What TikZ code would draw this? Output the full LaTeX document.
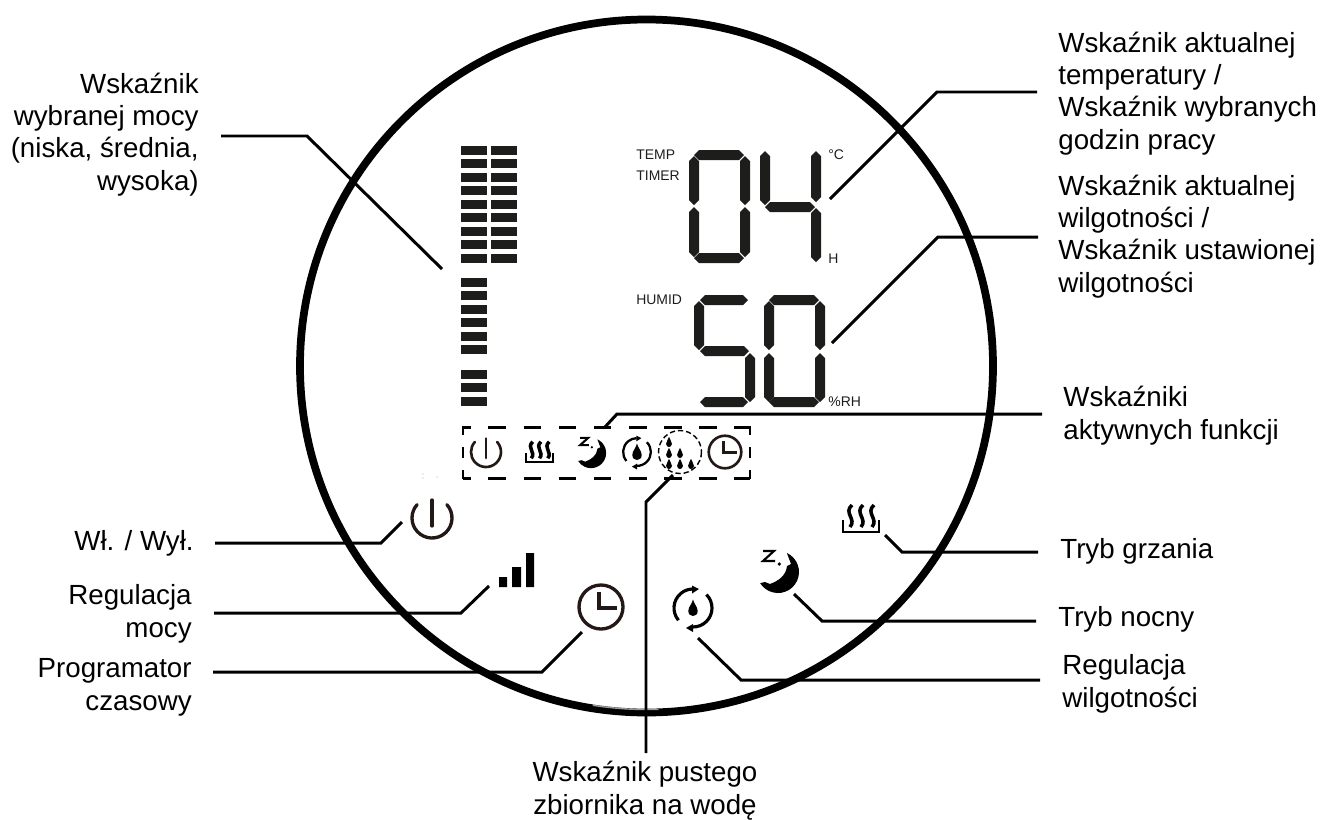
\documentclass[tikz,border=0pt]{standalone}
\usepackage{fontspec}
\setmainfont{Liberation Sans}
\usepackage{tikz}
\definecolor{lcd}{HTML}{1D1D1B}
\definecolor{iconink}{HTML}{231815}
\tikzset{
  x=0.02cm,y=-0.02cm,
  rim/.style={draw=black,line width=4.4pt},
  leader/.style={draw=black,line width=1.7pt},
  lab/.style={inner sep=0pt,font=\fontsize{15.77}{18.4}\selectfont},
  labl/.style={lab,align=left,anchor=base west},
  labr/.style={lab,align=right,anchor=base east},
  lcdtext/.style={inner sep=0pt,anchor=base west,text=lcd,font=\fontsize{7.94}{9}\selectfont},
  dropicon/.pic={
    \fill (0,-8.5) .. controls (1,-4) and (4.7,-1) .. (4.7,3) .. controls (4.7,6.5) and (2,8) .. (0,8)
      .. controls (-2,8) and (-4.7,6.5) .. (-4.7,3) .. controls (-4.7,-1) and (-1,-4) .. (0,-8.5) -- cycle;
  },
  powericon/.pic={
    \draw[iconink,line cap=round] (-42:20) arc[start angle=-42,end angle=222,radius=20];
    \draw[iconink,line cap=round] (0,-18) -- (0,8);
  },
  clockicon/.pic={
    \draw[iconink] (0,0) circle[radius=22];
    \draw[iconink] (-2,-15) -- (-2,1) -- (16,1);
  },
  heaticon/.pic={
    \draw[black] (-18,0) -- (-18,12) -- (18,12) -- (18,0);
    \foreach \wx in {-11,0,11}
      \draw[black,line width=2pt] (\wx+2,-15) .. controls (\wx-7,-7) and (\wx+7,-1) .. (\wx,7);
  },
  moonicon/.pic={
    \fill[black] (-65:21) arc[start angle=-65,end angle=148,radius=21]
      -- (-13,10) -- (-8,12) .. controls (0,9) and (8,4) .. (9,-6) -- (13,-8) -- cycle;
    \draw[black,line width=1.2pt] (-15,-21) -- (-4,-21) -- (-15,-11) -- (-3,-11);
    \fill[black] (1.3,-8) circle[radius=1.8];
  },
  humidicon/.pic={
    \draw[black] (-220:19) arc[start angle=-220,end angle=-92,radius=19];
    \draw[black] (-45:19) arc[start angle=-45,end angle=92,radius=19];
    \fill[black] (6,-19) -- (-1,-22.5) -- (-1,-14.5) -- cycle;
    \fill[black] (-7,20) -- (0,16) -- (0,24) -- cycle;
    \pic at (0,0) {dropicon};
  }
}
\begin{document}
\begin{tikzpicture}
\useasboundingbox (0,0) rectangle (1323,819);
% rim of the panel
\draw[rim] (646.5,366) circle[radius=346.5];
\draw[white,opacity=.6,line width=.8pt] (646.5,366) ++(88:343.5) arc[start angle=88,end angle=99,radius=343.5];

% power bars
\foreach \by in {146,159,173,186,200,213,227,240,254} {
  \fill[lcd] (461,\by) rectangle ++(26,9);
  \fill[lcd] (491,\by) rectangle ++(26,9);
}
\foreach \by in {278,291,305,318,332,345,370,383,397}
  \fill[lcd] (461,\by) rectangle ++(26,9);

% digits
\foreach \xa/\xb/\ym in {694/744/155,694/744/258,765/815/207,700/748/300,700/749/351,700/748/402,769/819/300,769/819/402}
  \fill[lcd] (\xa,\ym) -- (\xa+5,\ym-5) -- (\xb-5,\ym-5) -- (\xb,\ym) -- (\xb-5,\ym+5) -- (\xa+5,\ym+5) -- cycle;
\foreach \xm/\ya/\yb in {694/156/205,694/207/257,745/156/205,745/207/257,765/151/205,816/151/202,816/208/262,
  699/301/350,750/353/402,769/301/350,769/353/402,820/301/350,820/353/402}
  \fill[lcd] (\xm,\ya) -- (\xm+5,\ya+5) -- (\xm+5,\yb-5) -- (\xm,\yb) -- (\xm-5,\yb-5) -- (\xm-5,\ya+5) -- cycle;

\node[lcdtext] (temp) at (636,159) {TEMP};
\node[lcdtext] (timer) at (636,180) {TIMER};
\node[lcdtext] (humid) at (636,304) {HUMID};
\node[lcdtext] (degc) at (828,159) {°C};
\node[lcdtext] (hour) at (828,263) {H};
\node[lcdtext] (perc) at (828,406) {\%RH};

% function indicators
\draw[black,line width=1.7pt,dash pattern=on 10pt off 10pt,dash phase=5.5pt] (463,427) -- (750,427);
\draw[black,line width=1.7pt,dash pattern=on 10pt off 10pt,dash phase=5.5pt] (463,478) -- (750,478);
\draw[black,line width=1.7pt,dash pattern=on 5pt off 7pt on 6pt off 7pt on 5pt] (463,426) -- (463,479);
\draw[black,line width=1.7pt,dash pattern=on 5pt off 7pt on 6pt off 7pt on 5pt] (750,426) -- (750,479);
\pic[scale=.75,line width=1.5pt] at (486,452) {powericon};
\pic[scale=.75,line width=1.1pt] at (539.5,453) {heaticon};
\pic[scale=.72] at (591,453) {moonicon};
\pic[scale=.73,line width=1.3pt] at (637,452) {humidicon};
\draw[black,line width=.8pt,dash pattern=on 3pt off 1.7pt] (680,452) circle[radius=21.5];
\foreach \dx/\dy in {669/442,669/453,680/453,669/464,680/464,691/464}
  \pic[scale=.62,black] at (\dx,\dy) {dropicon};
\pic[scale=.74,line width=1.5pt] at (725,452) {clockicon};

% buttons
\pic[line width=1.9pt] at (432,518) {powericon};
\fill[black] (499,577) rectangle (507,587) (512,567) rectangle (521,587) (526,553) rectangle (534,587);
\pic[line width=1.9pt] at (601,607) {clockicon};
\pic[line width=1.8pt] at (693,608) {humidicon};
\pic at (778,572) {moonicon};
\pic[line width=1.4pt] at (861,520) {heaticon};
\fill[gray!60] (423,474) circle[radius=.6] (423,478) circle[radius=.6] (437,477) circle[radius=.6];

% leaders
\coordinate (levelA) at (221,136); \coordinate (levelB) at (307,136); \coordinate (levelC) at (442,269);
\coordinate (tempA) at (1037,92); \coordinate (tempB) at (937,92); \coordinate (tempC) at (830,199);
\coordinate (humA) at (1038,237); \coordinate (humB) at (938,237); \coordinate (humC) at (832,343);
\coordinate (funcA) at (1042,414); \coordinate (funcB) at (617,414); \coordinate (funcC) at (605,427);
\coordinate (tankA) at (646,753); \coordinate (tankB) at (646,502); \coordinate (tankC) at (673,475);
\coordinate (onA) at (215,543); \coordinate (onB) at (381,543); \coordinate (onC) at (402,522);
\coordinate (regA) at (214,613); \coordinate (regB) at (461,613); \coordinate (regC) at (489,586);
\coordinate (progA) at (213,672); \coordinate (progB) at (542,672); \coordinate (progC) at (582,632);
\coordinate (heatA) at (1038,552); \coordinate (heatB) at (902,552); \coordinate (heatC) at (885,535);
\coordinate (nightA) at (1036,621); \coordinate (nightB) at (822,621); \coordinate (nightC) at (794,594);
\coordinate (wetA) at (1040,680); \coordinate (wetB) at (741,680); \coordinate (wetC) at (698,638);
\foreach \ld in {level,temp,hum,func,tank,on,reg,prog,heat,night,wet}
  \draw[leader] (\ld A) -- (\ld B) -- (\ld C);

% labels
\node[labr] (levellab) at (199,190) {Wskaźnik\\wybranej mocy\\(niska, średnia,\\wysoka)};
\node[labl] (templab) at (1058,149) {Wskaźnik aktualnej\\temperatury /\\Wskaźnik wybranych\\godzin pracy};
\node[labl] (humlab) at (1058,292) {Wskaźnik aktualnej\\wilgotności /\\Wskaźnik ustawionej\\wilgotności};
\node[labl] (funclab) at (1063,439) {Wskaźniki\\aktywnych funkcji};
\node[labr] (onlab) at (194,550) {Wł. / Wył.};
\node[labr] (reglab) at (192,637) {Regulacja\\mocy};
\node[labr] (proglab) at (192,710) {Programator\\czasowy};
\node[labl] (heatlab) at (1060,558) {Tryb grzania};
\node[labl] (nightlab) at (1058,626) {Tryb nocny};
\node[labl] (wetlab) at (1062,707) {Regulacja\\wilgotności};
\node[lab,align=center,anchor=base] (tanklab) at (645,814) {Wskaźnik pustego\\zbiornika na wodę};
\end{tikzpicture}
\end{document}
